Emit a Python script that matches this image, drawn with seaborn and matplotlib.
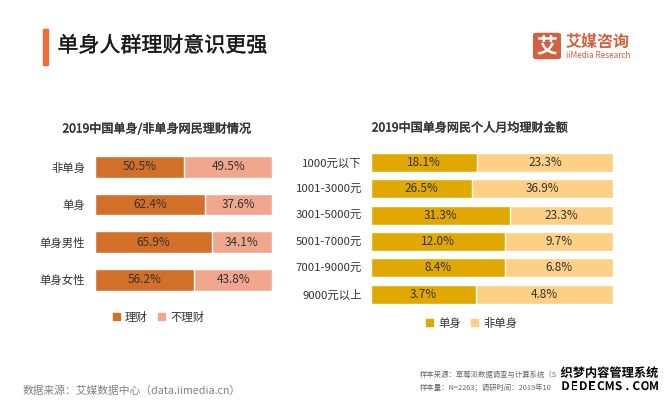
import matplotlib
matplotlib.use("Agg")
import matplotlib.patheffects as pe
import matplotlib.pyplot as plt
import pandas as pd
import seaborn as sns
from matplotlib.patches import FancyBboxPatch, Patch, Rectangle

W, H = 669, 401

left_cats = ["非单身", "单身", "单身男性", "单身女性"]
left_yes = [50.5, 62.4, 65.9, 56.2]
left_no = [49.5, 37.6, 34.1, 43.8]

right_cats = ["1000元以下", "1001-3000元", "3001-5000元", "5001-7000元", "7001-9000元", "9000元以上"]
right_single = [18.1, 26.5, 31.3, 12.0, 8.4, 3.7]
right_other = [23.3, 36.9, 23.3, 9.7, 6.8, 4.8]

sns.set_style("white")
plt.rcParams["font.family"] = ["Noto Sans CJK SC", "DejaVu Sans"]
TEXT = "#333333"
LOGO = "#D4603F"

fig = plt.figure(figsize=(W / 100, H / 100), dpi=100, facecolor="white")


def px_axes(x0, y0, x1, y1):
    return fig.add_axes([x0 / W, 1 - y1 / H, (x1 - x0) / W, (y1 - y0) / H])


def px_text(x, y, s, **kw):
    kw.setdefault("va", "center")
    kw.setdefault("color", TEXT)
    return fig.text(x / W, 1 - y / H, s, **kw)


def semi_bold(color, lw=0.3):
    return [pe.withStroke(linewidth=lw, foreground=color)]


def stacked(ax, cats, first, second, c1, c2, width, names, legend_x, legend_y, pad):
    # bars are 100% stacked, the labels keep the raw values
    df = pd.DataFrame({"cat": cats, "first": first, "second": second})
    df["share"] = df["first"] / (df["first"] + df["second"]) * 100
    df["full"] = 100.0
    sns.barplot(data=df, y="cat", x="full", color=c2, width=width, saturation=1, ax=ax)
    sns.barplot(data=df, y="cat", x="share", color=c1, width=width, saturation=1, ax=ax)
    for i, row in df.iterrows():
        ax.text(row["share"] / 2, i, f"{row['first']:.1f}%", ha="center", va="center",
                fontsize=8.5, color=TEXT)
        ax.text((row["share"] + 100) / 2, i, f"{row['second']:.1f}%", ha="center", va="center",
                fontsize=8.5, color=TEXT)
    ax.set_xlim(0, 100)
    ax.set(xlabel="", ylabel="", xticks=[])
    ax.tick_params(axis="y", length=0, pad=pad, labelsize=8.2, labelcolor=TEXT)
    sns.despine(ax=ax, left=True, bottom=True, top=True, right=True)
    fig.legend(handles=[Patch(color=c1, label=names[0]), Patch(color=c2, label=names[1])],
               loc="center", bbox_to_anchor=(legend_x / W, 1 - legend_y / H), ncol=2, frameon=False,
               fontsize=8.2, labelcolor=TEXT, handlelength=0.62, handleheight=0.62,
               handletextpad=0.45, columnspacing=0.9, borderpad=0, borderaxespad=0)


ax1 = px_axes(95, 148, 272, 298.6)
stacked(ax1, left_cats, left_yes, left_no, "#D2702A", "#F1A78D", 0.575,
        ["理财", "不理财"], 158.5, 317, 7)

ax2 = px_axes(371, 149.3, 613, 307.4)
stacked(ax2, right_cats, right_single, right_other, "#E0A800", "#FDD085", 0.73,
        ["单身", "非单身"], 472, 323, 6.5)

px_text(157, 129, "2019中国单身/非单身网民理财情况", ha="center", fontsize=8.7,
        path_effects=semi_bold(TEXT))
px_text(470, 128, "2019中国单身网民个人月均理财金额", ha="center", fontsize=8.7,
        path_effects=semi_bold(TEXT))

# header
fig.add_artist(Rectangle((43 / W, 1 - 65 / H), 5.3 / W, 36 / H, color="#F26A35", transform=fig.transFigure))
px_text(57.5, 45.7, "单身人群理财意识更强", fontsize=15.1, color="#1a1a1a", path_effects=semi_bold("#1a1a1a", 0.25))

# logo
fig.add_artist(FancyBboxPatch((535 / W, 1 - 58 / H), 24 / W, 24 / H, transform=fig.transFigure,
                              boxstyle="round,pad=0.003,rounding_size=0.005", color=LOGO, lw=0))
px_text(547, 46.5, "艾", ha="center", fontsize=15, color="white", fontweight="bold")
px_text(566, 41.5, "艾媒咨询", fontsize=11.5, color=LOGO, fontweight="bold")
px_text(566, 55, "iiMedia Research", fontsize=5.9, color=LOGO)

# footer
px_text(23, 390.7, "数据来源：艾媒数据中心（data.iimedia.cn）", fontsize=7.75, color="#808080")
# the rest of these two lines is hidden under the watermark in the reference
px_text(420, 374.7, "样本来源：草莓派数据调查与计算系统（S", fontsize=5.3, color="#666666")
px_text(420, 388.7, "样本量：N=2263；调研时间：2019年10", fontsize=5.3, color="#666666")

# watermark
stroke = [pe.withStroke(linewidth=2, foreground="white")]
px_text(609.5, 373.3, "织梦内容管理系统", ha="center", fontsize=8.8, color="black", fontweight="bold",
        path_effects=stroke, zorder=10)
for i, ch in enumerate("DEDECMS.COM"):
    px_text(565.5 + i * 8.85, 386.5, ch, ha="center", fontsize=8.5, color="black", fontweight="bold",
            path_effects=stroke, zorder=10)

fig.savefig("out.png", dpi=100)
